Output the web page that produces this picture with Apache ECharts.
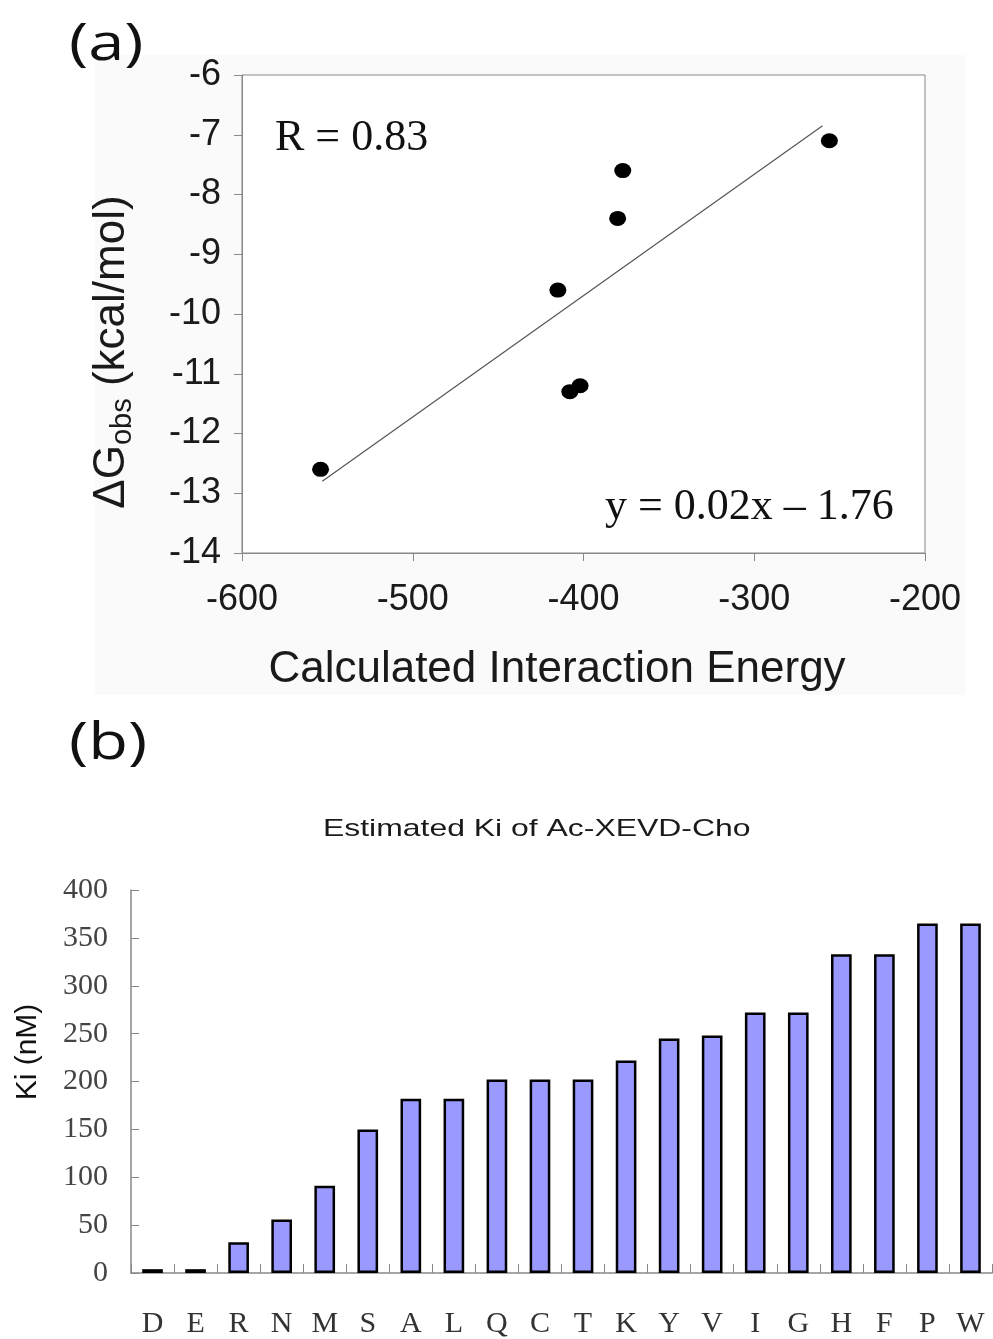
<!DOCTYPE html>
<html>
<head>
<meta charset="utf-8">
<script src="https://cdn.jsdelivr.net/npm/echarts@6/dist/echarts.min.js"></script>
<style>html,body{margin:0;padding:0;background:#fff;}#c{width:993px;height:1339px;}</style>
</head>
<body>
<div id="c"></div>
<script>
// Panel (a): scatter data [Calculated Interaction Energy, ΔG_obs]
const energyX = [-554, -415, -408, -402, -380, -377, -256];
const dGobs = [-12.6, -9.6, -11.3, -11.2, -8.4, -7.6, -7.1];
// Fit line endpoints
const fitX = [-553, -260];
const fitY = [-12.8, -6.85];
const xTicksA = [-600, -500, -400, -300, -200];
const yTicksA = [-14, -13, -12, -11, -10, -9, -8, -7, -6];

// Panel (b): bar chart
const residues = ['D','E','R','N','M','S','A','L','Q','C','T','K','Y','V','I','G','H','F','P','W'];
const kiValues = [4, 4, 32, 56, 91, 150, 182, 182, 202, 202, 202, 222, 245, 248, 272, 272, 333, 333, 365, 365];
const yTicksB = [0, 50, 100, 150, 200, 250, 300, 350, 400];

const chart = echarts.init(document.getElementById('c'), null, {renderer: 'canvas'});
const sans = 'Liberation Sans';
const serif = 'Liberation Serif';

const option = {
  backgroundColor: '#fff',
  animation: false,
  graphic: [
    {type: 'rect', z: -10, shape: {x: 95, y: 55, width: 870, height: 640}, style: {fill: '#fafafa'}},
    {type: 'text', x: 69, y: 45, scaleX: 1.25, style: {text: '(a)', font: '52px "Open Sans"', fill: '#111', textVerticalAlign: 'middle'}},
    {type: 'text', x: 69, y: 744, scaleX: 1.25, style: {text: '(b)', font: '52px "Open Sans"', fill: '#111', textVerticalAlign: 'middle'}},
    {type: 'text', x: 275, y: 138, z: 10, style: {text: 'R = 0.83', font: '44px "Liberation Serif"', fill: '#111', textVerticalAlign: 'middle'}},
    {type: 'text', x: 605, y: 507, z: 10, style: {text: 'y = 0.02x \u2013 1.76', font: '44px "Liberation Serif"', fill: '#111', textVerticalAlign: 'middle'}},
    {type: 'text', x: 557, y: 670, style: {text: 'Calculated Interaction Energy', font: '44px "Liberation Sans"', fill: '#1a1a1a', textAlign: 'center', textVerticalAlign: 'middle'}},
    {type: 'text', x: 112, y: 352, rotation: Math.PI / 2, style: {
      text: '{a|\u0394G}{s|obs}{a| (kcal/mol)}', textAlign: 'center', textVerticalAlign: 'middle',
      rich: {
        a: {fontFamily: sans, fontSize: 44, fill: '#1a1a1a'},
        s: {fontFamily: sans, fontSize: 29, fill: '#1a1a1a', padding: [22, 0, 0, 0]}
      }
    }},
    {type: 'text', x: 323, y: 829, scaleX: 1.33, style: {text: 'Estimated Ki of Ac-XEVD-Cho', font: '24px "Liberation Sans"', fill: '#1a1a1a', textVerticalAlign: 'middle'}},
    {type: 'text', x: 28, y: 1052, rotation: Math.PI / 2, style: {text: 'Ki (nM)', font: '30px "Liberation Sans"', fill: '#111', textAlign: 'center', textVerticalAlign: 'middle'}}
  ],
  grid: [
    {left: 242, top: 75, width: 683, height: 478, show: true, borderColor: '#888', borderWidth: 1, backgroundColor: '#fff'},
    {left: 131, top: 890, width: 861, height: 384}
  ],
  xAxis: [
    {
      gridIndex: 0, type: 'value', min: xTicksA[0], max: xTicksA[xTicksA.length - 1], interval: 100,
      axisLine: {show: true, lineStyle: {color: '#888', width: 1}},
      axisTick: {show: true, inside: false, length: 8, lineStyle: {color: '#888'}},
      axisLabel: {fontFamily: sans, fontSize: 36, color: '#1a1a1a', margin: 29},
      splitLine: {show: false}
    },
    {
      gridIndex: 1, type: 'category', data: residues, boundaryGap: true,
      axisLine: {show: true, lineStyle: {color: '#888', width: 1.5}},
      axisTick: {show: true, inside: true, length: 9, alignWithLabel: false, lineStyle: {color: '#888'}},
      axisLabel: {fontFamily: serif, fontSize: 30, color: '#333', margin: 36, interval: 0},
      splitLine: {show: false}
    }
  ],
  yAxis: [
    {
      gridIndex: 0, type: 'value', min: yTicksA[0], max: yTicksA[yTicksA.length - 1], interval: 1,
      axisLine: {show: true, lineStyle: {color: '#888', width: 1}},
      axisTick: {show: true, inside: false, length: 8, lineStyle: {color: '#888'}},
      axisLabel: {fontFamily: sans, fontSize: 36, color: '#1a1a1a', margin: 21},
      splitLine: {show: false}
    },
    {
      gridIndex: 1, type: 'value', min: 0, max: 400, interval: 50,
      axisLine: {show: true, lineStyle: {color: '#888', width: 1.5}},
      axisTick: {show: true, inside: true, length: 8, lineStyle: {color: '#888'}},
      axisLabel: {fontFamily: serif, fontSize: 30, color: '#444', margin: 23},
      splitLine: {show: false}
    }
  ],
  series: [
    {
      type: 'line', xAxisIndex: 0, yAxisIndex: 0,
      data: fitX.map((x, i) => [x, fitY[i]]),
      showSymbol: false, symbol: 'none',
      lineStyle: {color: '#555', width: 1.2}, z: 2
    },
    {
      type: 'scatter', xAxisIndex: 0, yAxisIndex: 0,
      data: energyX.map((x, i) => [x, dGobs[i]]),
      symbol: 'circle', symbolSize: [17, 15],
      itemStyle: {color: '#000', opacity: 1}, z: 3
    },
    {
      type: 'bar', xAxisIndex: 1, yAxisIndex: 1,
      data: kiValues, barWidth: '48%',
      itemStyle: {color: '#9999ff', borderColor: '#000', borderWidth: 2.5}
    }
  ]
};
chart.setOption(option);
</script>
</body>
</html>
